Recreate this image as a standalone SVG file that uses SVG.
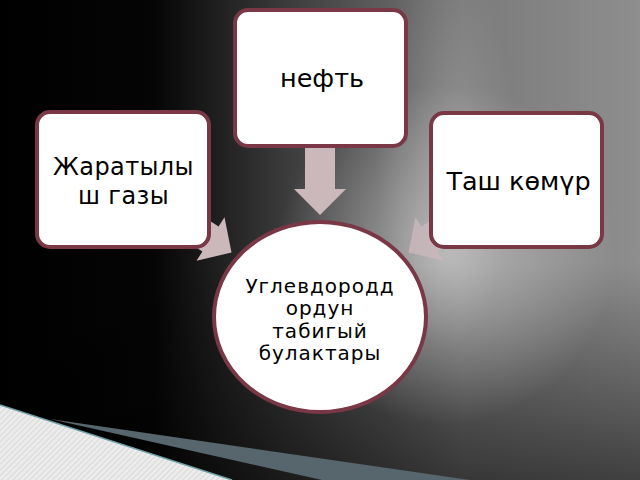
<svg xmlns="http://www.w3.org/2000/svg" width="640" height="480" viewBox="0 0 640 480">
<defs>
<linearGradient id="bgH" x1="0" y1="0" x2="640" y2="0" gradientUnits="userSpaceOnUse">
<stop offset="0" stop-color="#000"/>
<stop offset="0.24" stop-color="#050505"/>
<stop offset="0.45" stop-color="#3c3c3c"/>
<stop offset="0.72" stop-color="#7a7a7a"/>
<stop offset="1" stop-color="#8e8e8e"/>
</linearGradient>
<linearGradient id="bgV" x1="0" y1="0" x2="0" y2="480" gradientUnits="userSpaceOnUse">
<stop offset="0" stop-color="#000" stop-opacity="0"/>
<stop offset="0.55" stop-color="#000" stop-opacity="0"/>
<stop offset="1" stop-color="#000" stop-opacity="0.55"/>
</linearGradient>
<radialGradient id="glow" cx="445" cy="255" r="170" gradientUnits="userSpaceOnUse">
<stop offset="0" stop-color="#fff" stop-opacity="0.45"/>
<stop offset="1" stop-color="#fff" stop-opacity="0"/>
</radialGradient>
<radialGradient id="band" cx="445" cy="150" r="1" gradientUnits="userSpaceOnUse" gradientTransform="translate(445 150) scale(70 200) translate(-445 -150)">
<stop offset="0" stop-color="#fff" stop-opacity="0.18"/>
<stop offset="1" stop-color="#fff" stop-opacity="0"/>
</radialGradient>
<pattern id="hatch" width="4" height="4" patternUnits="userSpaceOnUse" patternTransform="rotate(45)">
<rect width="4" height="4" fill="#ececec"/>
<line x1="0" y1="0" x2="0" y2="4" stroke="#c4c4c4" stroke-width="1"/>
</pattern>
<style>
.box{fill:#fff;stroke:#7a3846;stroke-width:4}
.arrow{fill:#cbb8bb;stroke:none}
.t{font-family:"DejaVu Sans","Noto Sans",sans-serif;fill:#000;text-anchor:middle}
.big{font-size:25.5px}
.mid{font-size:24px;letter-spacing:0.4px}
.small{font-size:20px;letter-spacing:1px}
</style>
</defs>
<g id="background">
<rect width="640" height="480" fill="url(#bgH)"/>
<rect width="640" height="480" fill="url(#bgV)"/>
<rect width="640" height="480" fill="url(#glow)"/>
<rect width="640" height="480" fill="url(#band)"/>
<polygon points="0,405 232,480 0,480" fill="url(#hatch)"/>
<line x1="0" y1="405" x2="232" y2="480" stroke="#6fa0a6" stroke-width="1.5"/>
<polygon points="50,419 470,480 322,480" fill="#56666c"/>
</g>
<g id="connectors">
<polygon class="arrow" points="305,140 335,140 335,189 346,189 320,215 294,189 305,189"/>
<polygon class="arrow" points="185,204.8 218.6,226.4 224.5,217.2 231.5,252.5 196.5,260.8 202.4,251.6 168.8,230"/>
<polygon class="arrow" points="455,204.8 421.4,226.4 415.5,217.2 408.5,252.5 443.5,260.8 437.6,251.6 471.2,230" opacity="0.8"/>
</g>
<g id="node-neft">
<rect class="box" x="235" y="10" width="171" height="136" rx="13"/>
<text class="t big" x="322" y="87">нефть</text>
</g>
<g id="node-gas">
<rect class="box" x="37" y="112" width="172" height="135" rx="13"/>
<text class="t mid" x="123.5" y="175">Жаратылы</text>
<text class="t mid" x="123.5" y="203.5">ш газы</text>
</g>
<g id="node-coal">
<rect class="box" x="431" y="113" width="171" height="134" rx="13"/>
<text class="t big" x="518.5" y="190">Таш көмүр</text>
</g>
<g id="node-sources">
<ellipse class="box" cx="320" cy="317" rx="106" ry="95"/>
<text class="t small" x="320" y="292.5">Углевдородд</text>
<text class="t small" x="320" y="315">ордун</text>
<text class="t small" x="320" y="337.5">табигый</text>
<text class="t small" x="320" y="360">булактары</text>
</g>
</svg>
